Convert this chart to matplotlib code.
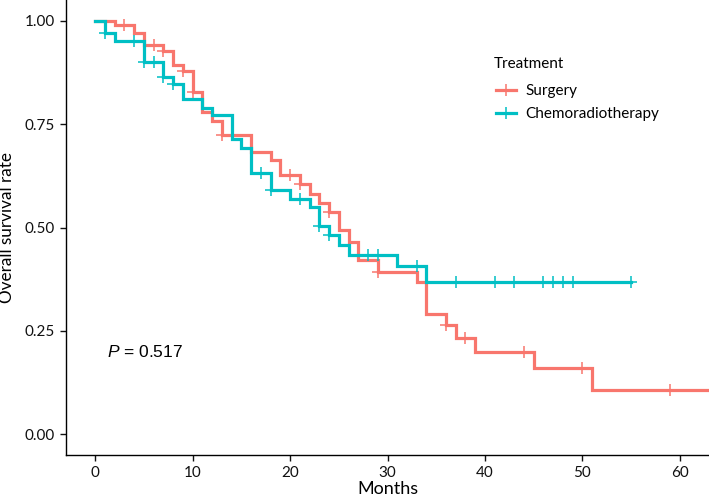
import numpy as np
import matplotlib
matplotlib.use('Agg')
import matplotlib.pyplot as plt
from matplotlib.lines import Line2D

# step curves (months, survival after the drop)
surg_t = [0, 2, 4, 5, 7, 8, 9, 10, 11, 12, 13, 16, 18, 19, 21, 22, 23, 24,
          25, 26, 27, 29, 33, 34, 36, 37, 39, 45, 51]
surg_s = [1.0, 0.989, 0.971, 0.942, 0.927, 0.892, 0.879, 0.828, 0.780,
          0.758, 0.723, 0.683, 0.663, 0.626, 0.604, 0.582, 0.560, 0.538,
          0.493, 0.465, 0.421, 0.392, 0.368, 0.290, 0.264, 0.234, 0.199,
          0.161, 0.106]
surg_cens = [3, 6, 7, 9, 10, 13, 20, 21, 24, 29, 36, 38, 44, 50, 59]
surg_end = 66

chemo_t = [0, 1, 2, 5, 7, 8, 9, 11, 12, 14, 15, 16, 18, 20, 22, 23, 24,
           25, 26, 31, 34]
chemo_s = [1.0, 0.971, 0.951, 0.900, 0.864, 0.848, 0.810, 0.788, 0.771,
           0.715, 0.691, 0.632, 0.591, 0.570, 0.550, 0.503, 0.481, 0.457,
           0.433, 0.406, 0.368]
chemo_cens = [1, 4, 5, 6, 7, 8, 17, 18, 21, 23, 24, 28, 29, 33, 37, 41,
              43, 46, 47, 48, 49, 55]
chemo_end = 55

groups = ['Surgery', 'Chemoradiotherapy']
colors = ['#F8766D', '#00BFC4']
p_text = '0.517'

plt.rcParams['font.family'] = ['Lato', 'DejaVu Sans']
plt.rcParams['mathtext.fontset'] = 'custom'
plt.rcParams['mathtext.it'] = 'Liberation Sans:italic'
plt.rcParams['mathtext.rm'] = 'Liberation Sans'

fig = plt.figure(figsize=(7.09, 4.97), dpi=100)
ax = fig.add_axes([66 / 709, 42 / 497, 643 / 709, 455 / 497])


def km_curve(t, s, cens, end, color):
    xs = list(t) + [end]
    ys = list(s) + [s[-1]]
    ax.step(xs, ys, where='post', color=color, lw=2.3, solid_joinstyle='miter')
    idx = np.searchsorted(t, cens, side='right') - 1
    cy = np.array(s)[idx]
    ax.plot(cens, cy, ls='none', marker='+', ms=8, mew=1.1, color=color)


km_curve(surg_t, surg_s, surg_cens, surg_end, colors[0])
km_curve(chemo_t, chemo_s, chemo_cens, chemo_end, colors[1])

ax.set_xlim(-3, 63)
ax.set_ylim(-0.05, 1.05)
ax.set_xticks([0, 10, 20, 30, 40, 50, 60])
ax.set_yticks([0, 0.25, 0.5, 0.75, 1.0])
ax.set_yticklabels(['0.00', '0.25', '0.50', '0.75', '1.00'])
for side in ['top', 'right']:
    ax.spines[side].set_visible(False)
for side in ['left', 'bottom']:
    ax.spines[side].set_linewidth(1.0)
ax.tick_params(length=4, width=1, labelsize=11, colors='#111111', pad=4)
ax.set_xlabel('Months', fontsize=13, labelpad=1)
ax.set_ylabel('Overall survival rate', fontsize=12.3, labelpad=7)

# p-value at the survminer default spot
ax.text(1.2, 0.2, r'$\mathit{P}$ = ' + p_text, fontsize=12.5,
        family='Liberation Sans', va='center', ha='left')

# legend: title placed on its own, entries below
ax.text(0.6656, 0.859, 'Treatment', transform=ax.transAxes, fontsize=11,
        va='center', ha='left')
handles = [Line2D([], [], color=c, lw=2.3, marker='+', ms=8, mew=1.1)
           for c in colors]
leg = ax.legend(handles, groups, loc='upper left',
                bbox_to_anchor=(0.6687, 0.815), frameon=False, fontsize=11,
                handlelength=1.3, handletextpad=0.6, labelspacing=0.57,
                borderpad=0, borderaxespad=0)

fig.savefig('out.png', dpi=100)
